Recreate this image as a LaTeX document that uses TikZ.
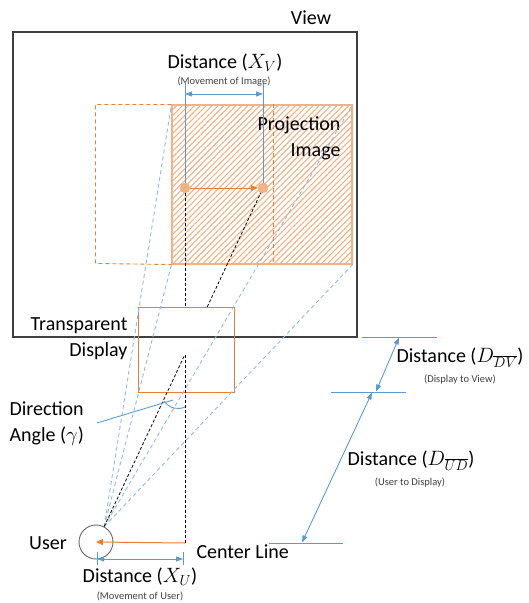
\documentclass[tikz,border=0pt]{standalone}
\usepackage{fontspec}
\setmainfont{Carlito}
\usetikzlibrary{arrows.meta,patterns.meta,calc}

\definecolor{lineorange}{HTML}{ED7D31}
\definecolor{softorange}{HTML}{F4B183}
\definecolor{dimblue}{HTML}{5B9BD5}
\definecolor{rayblue}{HTML}{8FBCE3}
\definecolor{framegray}{HTML}{404040}

\begin{document}
\begin{tikzpicture}[x=1pt,y=-1pt,
    big/.style={font=\fontsize{20}{26}\selectfont},
    small/.style={font=\fontsize{10.5}{12}\selectfont, text=framegray},
    dim/.style={dimblue, line width=0.9pt,
      {Triangle[length=7pt,width=5pt]}-{Triangle[length=7pt,width=5pt]}},
    ray/.style={rayblue, line width=0.9pt, dash pattern=on 4pt off 3pt},
    axis/.style={black, line width=0.8pt, dash pattern=on 3pt off 2pt},
    spot/.style={circle, fill=softorange, draw=lineorange!60, inner sep=0pt, minimum size=10pt}]

  \useasboundingbox (0,0) rectangle (528,603);

  \pgfmathsetmacro\imgw{180}   % width of the projected image
  \pgfmathsetmacro\imgh{159}
  \pgfmathsetmacro\shift{76}   % how far the image moved

% view plane
  \draw[framegray, line width=1.2pt] (13,32) rectangle (357,337);
  \node[big] (viewlabel) at (311,18) {View};

% projection image, new place hatched, old place dashed
  \node[draw=softorange, line width=1.2pt, minimum width=\imgw pt, minimum height=\imgh pt,
        inner sep=0pt, pattern={Lines[angle=45,distance=4.2pt,line width=1.1pt]},
        pattern color=softorange] (img) at (262,184.5) {};
  \draw[lineorange, line width=0.9pt, dash pattern=on 4pt off 3pt]
        (img.north west) -- ++(-\shift,0) -- ++(0,\imgh) -- (img.south west);
  \draw[lineorange, line width=0.9pt, dash pattern=on 4pt off 3pt]
        ($(img.north west)+(102,0)$) -- ($(img.south west)+(102,0)$);
  \node[big, align=right, anchor=east] (imglabel) at (344,138) {Projection\\Image};

% transparent display
  \node[draw=lineorange, line width=1pt, minimum width=96pt, minimum height=85pt,
        inner sep=0pt] (disp) at (186,349.5) {};
  \node[big, align=right, anchor=east] (displabel) at (131,339) {Transparent\\Display};

% user
  \node[circle, draw=framegray!80, line width=0.9pt, minimum size=34pt, inner sep=0pt] (user) at (96,542) {};
  \coordinate (eye) at (user.62);
  \node[big] (userlabel) at (48,543) {User};

% image centre before and after moving
  \node[spot] (p0) at (185,188) {};
  \node[spot] (p1) at (263,188) {};
  \draw[lineorange, line width=1pt, -{Triangle[length=7pt,width=6pt]}] (p0) -- (p1);

% rays from the eye to the image corners
  \draw[ray] (eye) -- (img.north west);
  \draw[ray] (eye) -- (img.south west);
  \draw[ray] (eye) -- (img.north east);
  \draw[ray] (eye) -- (img.south east);

% centre line and line of sight (broken inside the display)
  \coordinate (cbot) at (185,545);
  \draw[axis] (p0.south) -- (disp.north -| p0);
  \draw[axis] (185,355) -- (cbot);
  \draw[axis] (eye) -- ($(eye)!0.505!(p1)$);
  \draw[axis] ($(eye)!0.649!(p1)$) -- (p1);
  \node[big, anchor=west] (cllabel) at (193,552) {Center Line};

% user offset
  \coordinate (ustart) at (185,543);
  \draw[lineorange, line width=1pt, -{Triangle[length=7pt,width=6pt]}] (ustart) -- (user.center);

% direction angle
  \draw[dimblue, line width=0.9pt] (164,401) .. controls (170,409) and (178,410) .. (185,407);
  \coordinate (angtip) at (173,400);
  \draw[dimblue, line width=0.9pt] (97,423) -- (angtip);
  \node[big, align=left, anchor=west] (anglabel) at (6,424) {Direction\\Angle (\(\gamma\))};

% movement of image
  \coordinate (xv0) at (185,83);
  \coordinate (xv1) at (263,83);
  \draw[dimblue, line width=0.9pt] (p0.north) -- (xv0);
  \draw[dimblue, line width=0.9pt] (p1.north) -- (xv1);
  \draw[dim] (185,94) -- (263,94);
  \node[big] (xvlabel) at (225,63) {Distance (\(X_V\))};
  \node[small] (xvnote) at (224,82) {(Movement of Image)};

% movement of user
  \draw[dimblue, line width=0.9pt] (97,552) -- (97,565);
  \draw[dimblue, line width=0.9pt] (183,552) -- (183,565);
  \draw[dim] (97,559) -- (183,559);
  \node[big] (xulabel) at (140,577) {Distance (\(X_U\))};
  \node[small] (xunote) at (140,596) {(Movement of User)};

% distances along the viewing axis
  \coordinate (lv0) at (362,337);  \coordinate (lv1) at (437,337);
  \coordinate (ld0) at (331,392);  \coordinate (ld1) at (406,392);
  \coordinate (lu0) at (269,543);  \coordinate (lu1) at (343,543);
  \draw[dimblue, line width=0.9pt] (lv0) -- (lv1);
  \draw[dimblue, line width=0.9pt] (ld0) -- (ld1);
  \draw[dimblue, line width=0.9pt] (lu0) -- (lu1);
  \draw[dim] (399,337.5) -- (376,391.5);
  \draw[dim] (372,392.5) -- (302,542.5);
  \node[big] (dvlabel) at (460,358) {Distance (\(D_{\overline{DV}}\))};
  \node[small] (dvnote) at (460,379) {(Display to View)};
  \node[big] (udlabel) at (411,461) {Distance (\(D_{\overline{UD}}\))};
  \node[small] (udnote) at (410,482) {(User to Display)};

\end{tikzpicture}
\end{document}
